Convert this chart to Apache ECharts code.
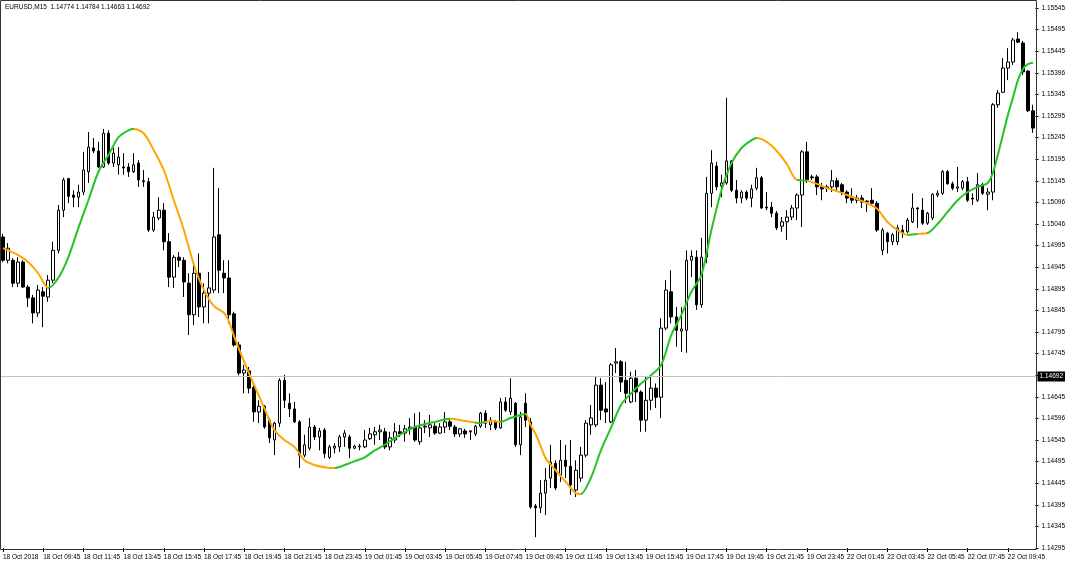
<!DOCTYPE html>
<html><head><meta charset="utf-8">
<script src="https://cdn.jsdelivr.net/npm/echarts/dist/echarts.min.js"></script>
<style>html,body{margin:0;padding:0;background:#fff}#c{width:1068px;height:565px}</style>
</head><body><div id="c"></div>
<script>
const symbolTitle = 'EURUSD,M15  1.14774 1.14784 1.14663 1.14692';
const currentPrice = 1.14692;
const startTime = Date.UTC(2018, 9, 18, 7, 45);

const xTickLabels = ['18 Oct 2018','18 Oct 09:45','18 Oct 11:45','18 Oct 13:45','18 Oct 15:45','18 Oct 17:45','18 Oct 19:45','18 Oct 21:45','18 Oct 23:45','19 Oct 01:45','19 Oct 03:45','19 Oct 05:45','19 Oct 07:45','19 Oct 09:45','19 Oct 11:45','19 Oct 13:45','19 Oct 15:45','19 Oct 17:45','19 Oct 19:45','19 Oct 21:45','19 Oct 23:45','22 Oct 01:45','22 Oct 03:45','22 Oct 05:45','22 Oct 07:45','22 Oct 09:45'];
// bottom to top; the 1.14695 slot is covered by the current-price box
const yTickLabels = ['1.14295','1.14345','1.14395','1.14445','1.14495','1.14545','1.14596','1.14645','','1.14745','1.14795','1.14845','1.14895','1.14945','1.14995','1.15046','1.15096','1.15145','1.15195','1.15245','1.15295','1.15345','1.15396','1.15445','1.15495','1.15545'];
const yMin = 1.14295, yMax = 1.15545, yStep = 0.0005;

const opens = [
1.15015,1.14961,1.14961,1.14908,1.14957,1.14899,1.14874,1.14839,1.14888,1.14876,
1.14915,1.14984,1.15077,1.15150,1.15112,1.15107,1.15119,1.15166,1.15221,1.15214,
1.15177,1.15255,1.15186,1.15182,1.15177,1.15177,1.15166,1.15186,1.15145,1.15143,
1.15031,1.15059,1.15077,1.15004,1.14922,1.14968,1.14961,1.14908,1.14835,1.14931,
1.14853,1.14885,1.14892,1.15020,1.14931,1.14920,1.14837,1.14765,1.14700,1.14705,
1.14667,1.14610,1.14623,1.14591,1.14545,1.14584,1.14683,1.14630,1.14617,1.14587,
1.14510,1.14526,1.14575,1.14552,1.14568,1.14505,1.14526,1.14529,1.14552,1.14552,
1.14526,1.14529,1.14529,1.14548,1.14557,1.14564,1.14564,1.14529,1.14545,1.14564,
1.14561,1.14571,1.14575,1.14541,1.14575,1.14573,1.14577,1.14561,1.14575,1.14587,
1.14575,1.14559,1.14566,1.14564,1.14559,1.14577,1.14607,1.14580,1.14587,1.14573,
1.14633,1.14610,1.14630,1.14534,1.14630,1.14587,1.14392,1.14388,1.14422,1.14457,
1.14491,1.14464,1.14498,1.14484,1.14429,1.14457,1.14510,1.14580,1.14580,1.14672,
1.14617,1.14587,1.14723,1.14726,1.14683,1.14633,1.14688,1.14656,1.14591,1.14637,
1.14665,1.14644,1.14804,1.14888,1.14830,1.14797,1.14799,1.14961,1.14968,1.14858,
1.14968,1.15116,1.15179,1.15133,1.15140,1.15191,1.15123,1.15105,1.15119,1.15105,
1.15128,1.15152,1.15084,1.15084,1.15070,1.15040,1.15050,1.15061,1.15082,1.15112,
1.15212,1.15154,1.15154,1.15131,1.15128,1.15131,1.15145,1.15136,1.15119,1.15107,
1.15100,1.15105,1.15098,1.15100,1.15093,1.14984,1.15024,1.15004,1.15004,1.15031,
1.15027,1.15050,1.15082,1.15077,1.15047,1.15059,1.15112,1.15116,1.15166,1.15138,
1.15128,1.15128,1.15143,1.15105,1.15100,1.15136,1.15114,1.15119,1.15321,1.15350,
1.15406,1.15420,1.15473,1.15464,1.15399,1.15307];
const closes = [
1.14961,1.14989,1.14908,1.14957,1.14899,1.14874,1.14839,1.14892,1.14878,1.14915,
1.14984,1.15077,1.15147,1.15109,1.15107,1.15119,1.15170,1.15223,1.15214,1.15177,
1.15255,1.15186,1.15209,1.15200,1.15175,1.15166,1.15182,1.15147,1.15143,1.15031,
1.15061,1.15077,1.15004,1.14922,1.14968,1.14961,1.14911,1.14835,1.14931,1.14853,
1.14885,1.14897,1.15015,1.14938,1.14920,1.14835,1.14765,1.14700,1.14707,1.14665,
1.14610,1.14623,1.14575,1.14550,1.14584,1.14683,1.14637,1.14617,1.14587,1.14510,
1.14534,1.14575,1.14552,1.14566,1.14514,1.14529,1.14531,1.14552,1.14561,1.14526,
1.14531,1.14531,1.14545,1.14559,1.14564,1.14568,1.14529,1.14550,1.14564,1.14559,
1.14571,1.14575,1.14545,1.14573,1.14577,1.14580,1.14561,1.14575,1.14587,1.14577,
1.14559,1.14571,1.14559,1.14566,1.14577,1.14607,1.14584,1.14591,1.14573,1.14633,
1.14614,1.14642,1.14534,1.14598,1.14591,1.14390,1.14388,1.14422,1.14452,1.14494,
1.14434,1.14498,1.14484,1.14441,1.14475,1.14510,1.14584,1.14596,1.14672,1.14614,
1.14610,1.14719,1.14726,1.14679,1.14653,1.14688,1.14656,1.14591,1.14637,1.14665,
1.14644,1.14804,1.14892,1.14830,1.14799,1.14802,1.14961,1.14970,1.14858,1.14968,
1.15116,1.15186,1.15131,1.15140,1.15191,1.15123,1.15105,1.15119,1.15105,1.15126,
1.15152,1.15082,1.15082,1.15070,1.15036,1.15050,1.15061,1.15082,1.15112,1.15212,
1.15147,1.15152,1.15131,1.15126,1.15131,1.15145,1.15131,1.15119,1.15105,1.15100,
1.15105,1.15096,1.15096,1.15093,1.15031,1.15031,1.15004,1.15020,1.15036,1.15024,
1.15054,1.15082,1.15080,1.15047,1.15070,1.15114,1.15116,1.15166,1.15138,1.15128,
1.15131,1.15143,1.15100,1.15103,1.15136,1.15116,1.15119,1.15321,1.15348,1.15406,
1.15420,1.15471,1.15466,1.15397,1.15307,1.15267];
const lows = [
1.14957,1.14954,1.14899,1.14899,1.14897,1.14853,1.14815,1.14830,1.14806,1.14865,
1.14908,1.14977,1.15061,1.15093,1.15084,1.15084,1.15112,1.15140,1.15209,1.15175,
1.15175,1.15182,1.15177,1.15159,1.15159,1.15154,1.15163,1.15131,1.15131,1.15027,
1.15027,1.15054,1.14984,1.14899,1.14897,1.14945,1.14876,1.14788,1.14811,1.14830,
1.14815,1.14815,1.14885,1.14885,1.14885,1.14815,1.14761,1.14695,1.14653,1.14653,
1.14587,1.14584,1.14571,1.14538,1.14510,1.14575,1.14619,1.14598,1.14584,1.14480,
1.14505,1.14521,1.14545,1.14521,1.14503,1.14501,1.14514,1.14517,1.14529,1.14503,
1.14524,1.14521,1.14526,1.14545,1.14534,1.14545,1.14524,1.14521,1.14538,1.14552,
1.14541,1.14557,1.14541,1.14534,1.14561,1.14552,1.14557,1.14559,1.14561,1.14568,
1.14552,1.14552,1.14550,1.14545,1.14554,1.14573,1.14573,1.14568,1.14568,1.14571,
1.14610,1.14603,1.14529,1.14510,1.14575,1.14386,1.14320,1.14376,1.14371,1.14434,
1.14429,1.14448,1.14457,1.14418,1.14413,1.14448,1.14505,1.14557,1.14575,1.14591,
1.14584,1.14584,1.14700,1.14656,1.14630,1.14630,1.14633,1.14564,1.14564,1.14614,
1.14619,1.14596,1.14799,1.14815,1.14761,1.14749,1.14747,1.14922,1.14846,1.14851,
1.14954,1.15084,1.15123,1.15107,1.15136,1.15119,1.15093,1.15093,1.15100,1.15084,
1.15123,1.15080,1.15077,1.15061,1.15031,1.15027,1.15008,1.15054,1.15054,1.15038,
1.15140,1.15147,1.15112,1.15100,1.15119,1.15119,1.15119,1.15112,1.15093,1.15093,
1.15093,1.15082,1.15073,1.15089,1.15027,1.14973,1.14977,1.14996,1.14996,1.15013,
1.15024,1.15047,1.15036,1.15043,1.15043,1.15054,1.15107,1.15112,1.15136,1.15123,
1.15119,1.15123,1.15096,1.15089,1.15096,1.15112,1.15077,1.15100,1.15314,1.15348,
1.15378,1.15413,1.15464,1.15390,1.15304,1.15256];
const highs = [
1.15022,1.15001,1.14966,1.14968,1.14961,1.14904,1.14881,1.14904,1.14899,1.14927,
1.15004,1.15089,1.15152,1.15152,1.15123,1.15136,1.15212,1.15258,1.15244,1.15235,
1.15265,1.15262,1.15221,1.15223,1.15209,1.15186,1.15209,1.15193,1.15170,1.15152,
1.15073,1.15107,1.15093,1.15024,1.14973,1.14980,1.14968,1.14931,1.14954,1.14977,
1.14908,1.14934,1.15175,1.15128,1.14961,1.14961,1.14842,1.14772,1.14719,1.14714,
1.14672,1.14637,1.14626,1.14596,1.14587,1.14688,1.14696,1.14653,1.14633,1.14591,
1.14557,1.14596,1.14580,1.14573,1.14573,1.14534,1.14538,1.14557,1.14568,1.14557,
1.14534,1.14536,1.14568,1.14573,1.14575,1.14580,1.14573,1.14564,1.14584,1.14580,
1.14580,1.14596,1.14607,1.14610,1.14591,1.14603,1.14584,1.14584,1.14610,1.14596,
1.14580,1.14573,1.14571,1.14568,1.14580,1.14610,1.14614,1.14598,1.14591,1.14642,
1.14644,1.14688,1.14633,1.14610,1.14653,1.14596,1.14397,1.14452,1.14480,1.14534,
1.14498,1.14545,1.14534,1.14545,1.14498,1.14529,1.14591,1.14626,1.14691,1.14688,
1.14679,1.14723,1.14758,1.14730,1.14726,1.14703,1.14707,1.14660,1.14691,1.14691,
1.14676,1.14827,1.14915,1.14938,1.14853,1.14853,1.14984,1.14984,1.14984,1.15013,
1.15154,1.15216,1.15189,1.15159,1.15337,1.15193,1.15147,1.15123,1.15123,1.15136,
1.15175,1.15156,1.15119,1.15096,1.15075,1.15061,1.15077,1.15089,1.15116,1.15216,
1.15235,1.15159,1.15159,1.15140,1.15136,1.15170,1.15152,1.15140,1.15123,1.15128,
1.15112,1.15112,1.15100,1.15128,1.15098,1.15036,1.15027,1.15024,1.15043,1.15043,
1.15059,1.15116,1.15084,1.15105,1.15073,1.15116,1.15123,1.15170,1.15170,1.15143,
1.15177,1.15147,1.15154,1.15116,1.15163,1.15140,1.15128,1.15325,1.15355,1.15429,
1.15452,1.15476,1.15489,1.15469,1.15401,1.15321];

// moving average at these bars
const maIndex = [0,3,5,7,9,11,13,15,17,19,21,23,25,26,28,30,32,34,36,38,40,42,44,45,46,48,50,52,54,56,58,60,62,64,66,68,70,72,74,76,78,80,82,84,86,89,92,95,97,99,101,103,104,105,106,107,108,110,112,114,115,117,119,121,123,125,127,129,131,133,135,137,139,141,143,145,147,149,150,152,154,156,158,160,162,164,166,168,170,172,174,176,178,180,182,184,186,188,190,192,194,196,197,198,199,200,201,202,203,204,205];
const maValue = [1.14989,1.14973,1.14957,1.14931,1.14897,1.14920,1.14968,1.15036,1.15100,1.15166,1.15205,1.15246,1.15262,1.15265,1.15255,1.15216,1.15170,1.15100,1.15031,1.14950,1.14892,1.14855,1.14839,1.14818,1.14785,1.14726,1.14672,1.14619,1.14568,1.14545,1.14529,1.14498,1.14487,1.14482,1.14480,1.14487,1.14496,1.14505,1.14521,1.14534,1.14550,1.14564,1.14575,1.14582,1.14587,1.14594,1.14589,1.14584,1.14589,1.14587,1.14596,1.14603,1.14605,1.14580,1.14559,1.14531,1.14503,1.14475,1.14448,1.14422,1.14420,1.14457,1.14521,1.14573,1.14626,1.14653,1.14676,1.14695,1.14719,1.14788,1.14834,1.14888,1.14927,1.15031,1.15123,1.15186,1.15221,1.15239,1.15244,1.15235,1.15214,1.15184,1.15147,1.15145,1.15138,1.15128,1.15121,1.15112,1.15103,1.15093,1.15080,1.15050,1.15031,1.15020,1.15022,1.15024,1.15045,1.15073,1.15100,1.15119,1.15131,1.15140,1.15163,1.15205,1.15251,1.15297,1.15337,1.15378,1.15404,1.15415,1.15418];
// bars where the average switches colour (starts falling = orange)
const maColorBreaks = [9,26,66,89,94,96,99,104,115,150,158,160,180,182,184];
const maFallColor = '#ffa500', maRiseColor = '#22c322';

const categories = [];
(function(){
  const mon = ['Jan','Feb','Mar','Apr','May','Jun','Jul','Aug','Sep','Oct','Nov','Dec'];
  let t = startTime;
  for (let i = 0; i < opens.length; i++) {
    const d = new Date(t);
    const p = n => String(n).padStart(2,'0');
    categories.push(d.getUTCDate() + ' ' + mon[d.getUTCMonth()] + ' ' + p(d.getUTCHours()) + ':' + p(d.getUTCMinutes()));
    t += 15*60000;
    if (new Date(t).getUTCDay() === 6) t += 2*86400000;
  }
})();

const ohlc = opens.map((o,i) => [o, closes[i], lows[i], highs[i]]);
const maData = maIndex.map((x,k) => [x, maValue[k]]);
const pieces = [];
{
  let prev = -1, rising = false;
  maColorBreaks.concat([1000]).forEach(b => {
    pieces.push({gte: prev, lt: b, color: rising ? maRiseColor : maFallColor});
    prev = b; rising = !rising;
  });
}

const FONT = 'Liberation Sans';
const FS = 6.5;
const chart = echarts.init(document.getElementById('c'), null, {renderer:'canvas'});
chart.setOption({
  animation: false,
  backgroundColor: '#fff',
  title: { text: symbolTitle, left: 5, top: 4, padding: 0, textStyle: { fontSize: FS, fontWeight: 'normal', color: '#000', fontFamily: FONT } },
  grid: { left: -0.5, width: 1037, top: 8, height: 540, containLabel: false },
  xAxis: {
    type: 'category', data: categories, boundaryGap: true,
    axisLine: { show: false },
    axisTick: { show: true, interval: 7, alignWithLabel: true, length: 4, lineStyle: { color: '#000' } },
    axisLabel: { interval: 7, align: 'left', margin: 6, fontSize: FS, color: '#000', fontFamily: FONT,
      formatter: (v, i) => (i % 8 === 0 && xTickLabels[i/8] !== undefined) ? xTickLabels[i/8] : '' },
    splitLine: { show: false }
  },
  yAxis: {
    type: 'value', position: 'right', min: yMin, max: yMax, interval: yStep,
    axisLine: { show: false }, splitLine: { show: false },
    axisTick: { show: true, length: 3, lineStyle: { color: '#000' } },
    axisLabel: { margin: 6, fontSize: FS, color: '#000', fontFamily: FONT,
      formatter: v => { const k = Math.round((v - yMin) / yStep); return yTickLabels[k] !== undefined ? yTickLabels[k] : ''; } }
  },
  visualMap: { show: false, type: 'piecewise', seriesIndex: 1, dimension: 0, pieces: pieces },
  series: [
    { type: 'candlestick', data: ohlc, barWidth: 3, silent: true,
      itemStyle: { color: '#fff', color0: '#000', borderColor: '#000', borderColor0: '#000', borderWidth: 1 } },
    { type: 'line', data: maData, smooth: 0.3, showSymbol: false, silent: true, z: 3,
      lineStyle: { width: 2 } },
    { type: 'line', data: [], silent: true, z: 1,
      markLine: { silent: true, symbol: ['none','none'], animation: false, precision: 5,
        lineStyle: { color: '#c4c4c4', width: 1, type: 'solid' },
        label: { show: true, position: 'end', distance: 2, formatter: currentPrice.toFixed(5), color: '#fff', backgroundColor: '#000', padding: [2,2,1,2], fontSize: FS, fontFamily: FONT },
        data: [{ yAxis: currentPrice }] } }
  ],
  graphic: [{ type: 'rect', silent: true, z: 100, shape: { x: 0.5, y: 0.5, width: 1036, height: 549 }, style: { fill: null, stroke: '#333', lineWidth: 1 } }]
});
</script>
</body></html>
